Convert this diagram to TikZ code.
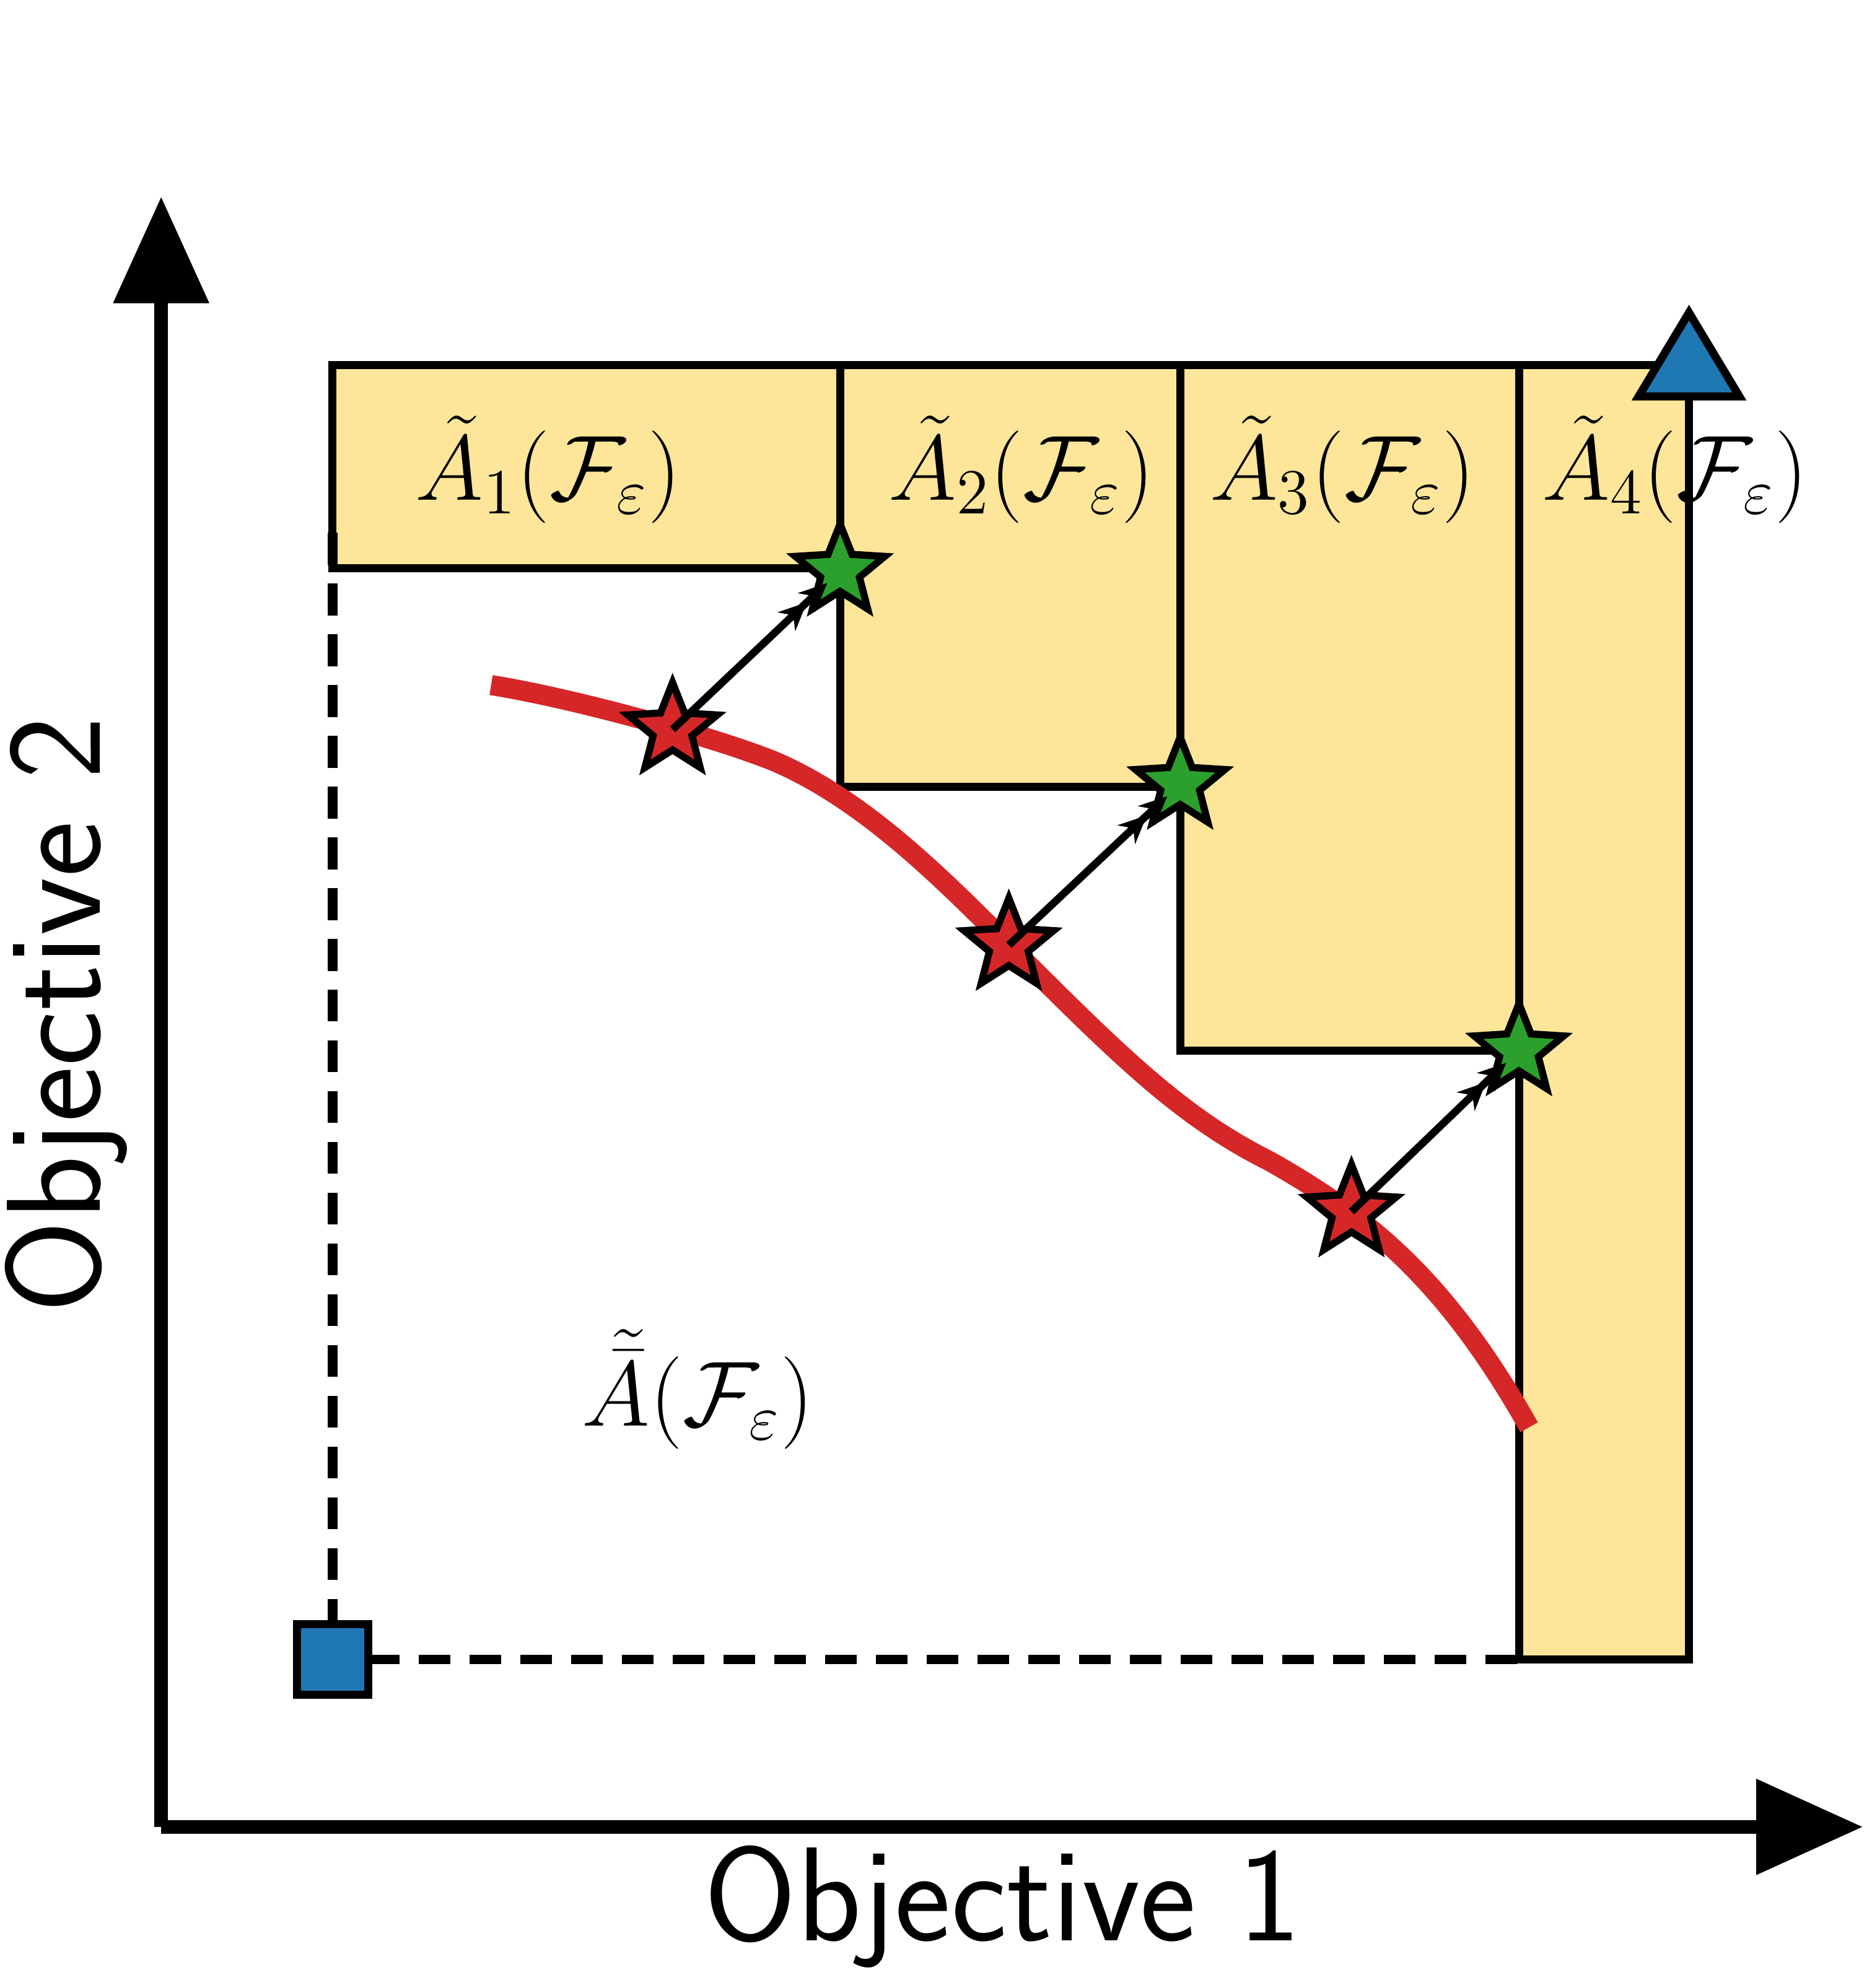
\documentclass[tikz,border=0pt]{standalone}
\usepackage{amsmath}
\usetikzlibrary{shapes.geometric,arrows.meta}
\definecolor{boxy}{HTML}{FDE69A}
\definecolor{redc}{HTML}{D62728}
\definecolor{greenc}{HTML}{2CA02C}
\definecolor{bluec}{HTML}{1F77B4}
\tikzset{
 region/.style={draw=black,fill=boxy,line width=1.8pt},
 axisline/.style={line width=3pt,-{Triangle[length=0.84cm,width=0.73cm]}},
 dashline/.style={line width=2.2pt,dash pattern=on 0.25cm off 0.15cm},
 starr/.style={star,star points=5,star point ratio=2.3,minimum size=0.74cm,inner sep=0pt,draw=black,line width=1.6pt},
 redstar/.style={starr,fill=redc},
 greenstar/.style={starr,fill=greenc},
 mv/.style={line width=1.7pt,-{Stealth[length=0.22cm,width=0.2cm]Stealth[length=0.22cm,width=0.2cm]},shorten >=0.14cm},
 lab/.style={font=\fontsize{21.5}{25}\selectfont},
 axlab/.style={font=\fontsize{30}{35}\selectfont\sffamily}
}
\begin{document}
\begin{tikzpicture}[x=0.01cm,y=-0.01cm]
\useasboundingbox (0,0) rectangle (1475,1567);
\coordinate (o) at (127,1440);
\coordinate (yt) at (127,155);
\coordinate (xt) at (1468,1440);
\draw[axisline] (o) -- (yt);
\draw[axisline] (o) -- (xt);
\draw[region] (1197,288) rectangle (1331,1308);
\draw[region] (930,288) rectangle (1197,828);
\draw[region] (662,288) rectangle (930,620);
\draw[region] (262,288) rectangle (662,448);
\coordinate (d1) at (262,420);
\coordinate (d2) at (262,1285);
\coordinate (d3) at (290,1308);
\coordinate (d4) at (1197,1308);
\draw[dashline] (d1) -- (d2);
\draw[dashline] (d3) -- (d4);
\draw[redc,line width=4.5pt] (387,540) .. controls (450,550) and (560,580) .. (610,600)
  .. controls (680,630) and (740,690) .. (795,745)
  .. controls (880,830) and (930,880) .. (1000,915)
  .. controls (1080,960) and (1140,1010) .. (1205,1125);
\node[redstar] (r1) at (530,575) {};
\node[redstar] (r2) at (795,745) {};
\node[redstar] (r3) at (1065,955) {};
\node[greenstar] (g1) at (662,450) {};
\node[greenstar] (g2) at (930,618) {};
\node[greenstar] (g3) at (1197,828) {};
\draw[mv] (r1.center) -- (g1.center);
\draw[mv] (r2.center) -- (g2.center);
\draw[mv] (r3.center) -- (g3.center);
\node[draw=black,fill=bluec,line width=1.8pt,minimum size=0.56cm,inner sep=0pt] (sq) at (262,1308) {};
\node[isosceles triangle,isosceles triangle apex angle=62,shape border rotate=90,draw=black,fill=bluec,line width=1.8pt,minimum height=0.66cm,inner sep=0pt] (tri) at (1331,290) {};
\node[lab] (l1) at (432,370) {$\tilde{A}_1(\mathcal{F}_\varepsilon)$};
\node[lab] (l2) at (805,370) {$\tilde{A}_2(\mathcal{F}_\varepsilon)$};
\node[lab] (l3) at (1058,370) {$\tilde{A}_3(\mathcal{F}_\varepsilon)$};
\node[lab] (l4) at (1320,370) {$\tilde{A}_4(\mathcal{F}_\varepsilon)$};
\node[lab] (l5) at (550,1095) {$\tilde{\bar{A}}(\mathcal{F}_\varepsilon)$};
\node[axlab] (x1) at (790,1503) {Objective 1};
\node[axlab,rotate=90] (y1) at (52,800) {Objective 2};
\end{tikzpicture}
\end{document}
